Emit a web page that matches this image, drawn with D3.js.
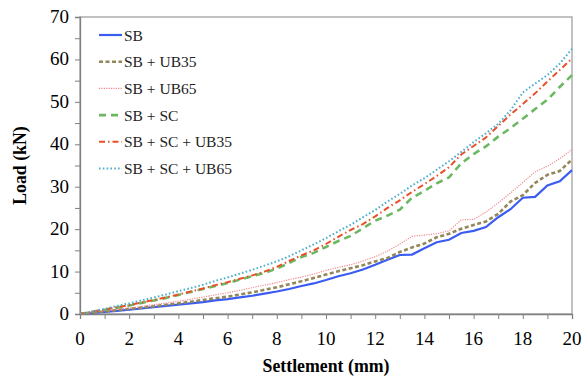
<!DOCTYPE html>
<html>
<head>
<meta charset="utf-8">
<script src="https://cdn.jsdelivr.net/npm/d3@7"></script>
<style>
  body { margin: 0; background: #fff; }
  text { font-family: "Liberation Serif", "Times New Roman", serif; }
</style>
</head>
<body>
<svg id="chart"></svg>
<script>
// settlement steps (mm)
const settlement = d3.range(0, 20.01, 0.5)

// load values (kN)
const sb = [0, 0.25, 0.5, 0.75, 1.0, 1.3, 1.6, 1.9, 2.2, 2.5, 2.8, 3.2, 3.5, 3.9, 4.3, 4.8, 5.3, 5.9, 6.6, 7.2,
  8.0, 8.9, 9.6, 10.5, 11.6, 12.8, 13.9, 14.0, 15.5, 16.9, 17.5, 19.1, 19.6, 20.5, 22.8, 24.7, 27.4, 27.6, 30.3, 31.3, 33.9]
const sbUb35 = [0, 0.3, 0.6, 0.9, 1.2, 1.5, 1.8, 2.2, 2.5, 2.9, 3.3, 3.7, 4.1, 4.6, 5.1, 5.7, 6.3, 7.0, 7.7, 8.5,
  9.3, 10.1, 10.8, 11.5, 12.4, 13.2, 14.6, 15.7, 16.6, 18.1, 18.9, 20.1, 21.0, 21.8, 23.6, 26.5, 28.0, 30.9, 32.8, 33.7, 36.4]
const sbUb65 = [0, 0.35, 0.7, 1.1, 1.4, 1.8, 2.2, 2.6, 3.0, 3.5, 4.0, 4.5, 5.0, 5.6, 6.2, 6.8, 7.4, 8.1, 8.7, 9.4,
  10.3, 11.0, 11.6, 12.5, 13.5, 14.8, 16.5, 18.3, 18.6, 18.9, 19.6, 22.2, 22.3, 24.0, 26.2, 28.5, 31.0, 33.5, 34.8, 36.6, 38.8]
const sbSc = [0, 0.5, 1.0, 1.5, 2.0, 2.6, 3.2, 3.8, 4.5, 5.2, 5.9, 6.6, 7.3, 8.1, 8.9, 9.7, 10.7, 12.0, 13.4, 14.4,
  15.8, 17.2, 18.4, 20.2, 22.0, 23.2, 24.6, 27.4, 29.0, 30.8, 32.2, 35.5, 37.7, 39.5, 41.8, 43.8, 46.0, 48.3, 50.5, 53.5, 56.3]
const sbScUb35 = [0, 0.5, 1.05, 1.6, 2.1, 2.7, 3.3, 3.9, 4.6, 5.3, 6.0, 6.8, 7.5, 8.3, 9.1, 10.0, 11.1, 12.5, 13.8, 15.0,
  16.5, 18.2, 19.8, 21.2, 23.0, 25.0, 26.8, 28.8, 30.6, 32.5, 34.6, 37.6, 39.6, 41.6, 44.3, 47.0, 49.5, 52.0, 54.8, 57.5, 60.2]
const sbScUb65 = [0, 0.6, 1.2, 1.9, 2.5, 3.2, 3.9, 4.6, 5.4, 6.1, 6.9, 7.8, 8.6, 9.5, 10.4, 11.4, 12.4, 13.6, 15.0, 16.4,
  17.9, 19.5, 21.0, 22.8, 24.5, 26.5, 28.3, 30.3, 32.0, 34.0, 36.0, 38.2, 40.5, 42.6, 44.8, 48.0, 52.2, 54.3, 56.3, 59.0, 62.5]

const seriesNames = ["SB", "SB + UB35", "SB + UB65", "SB + SC", "SB + SC + UB35", "SB + SC + UB65"]
const seriesValues = [sb, sbUb35, sbUb65, sbSc, sbScUb35, sbScUb65]

const xTicks = d3.range(0, 21, 1)
const xLabels = d3.range(0, 21, 2)
const yTicks = d3.range(0, 71, 5)
const yLabels = d3.range(0, 71, 10)

// line looks per series
const styles = [
  { color: "#3a5cf2", width: 2.2, dash: null },
  { color: "#94875a", width: 2.6, dash: "4,2.5" },
  { color: "#f08488", width: 1.1, dash: "1.2,1.2" },
  { color: "#6cb862", width: 2.6, dash: "7,5" },
  { color: "#e8502a", width: 2, dash: "6,3,1.5,3" },
  { color: "#4eaecb", width: 2, dash: "1.6,2.2" }
]

const width = 584, height = 383
const margin = ({ top: 17, right: 12, bottom: 69, left: 80 })

const svg = d3.select("#chart").attr("width", width).attr("height", height)

const x = d3.scaleLinear().domain([0, 20]).range([margin.left, width - margin.right])
const y = d3.scaleLinear().domain([0, 70]).range([height - margin.bottom, margin.top])

// frame
svg.append("rect")
  .attr("x", x(0)).attr("y", y(70))
  .attr("width", x(20) - x(0)).attr("height", y(0) - y(70))
  .attr("fill", "none").attr("stroke", "#a0a0a0").attr("stroke-width", 1.3)

// axes
const axisX = svg.append("g")
  .attr("transform", `translate(0 ${y(0)})`)
  .call(d3.axisBottom(x).tickValues(xTicks).tickSize(5).tickFormat(""))
axisX.selectAll("line").attr("stroke", "#808080")
axisX.select(".domain").attr("stroke", "#808080").attr("stroke-width", 1.3)

const axisY = svg.append("g")
  .attr("transform", `translate(${x(0)} 0)`)
  .call(d3.axisLeft(y).tickValues(yTicks).tickSize(5).tickFormat(""))
axisY.selectAll("line").attr("stroke", "#808080")
axisY.select(".domain").attr("stroke", "#808080").attr("stroke-width", 1.3)

// tick labels
svg.append("g").selectAll("text")
  .data(xLabels).join("text")
  .attr("x", d => x(d)).attr("y", y(0) + 31)
  .attr("text-anchor", "middle")
  .style("font-size", "19px")
  .text(d => d)

svg.append("g").selectAll("text")
  .data(yLabels).join("text")
  .attr("x", x(0) - 11).attr("y", d => y(d) + 6)
  .attr("text-anchor", "end")
  .style("font-size", "19px")
  .text(d => d)

// axis titles
svg.append("text")
  .attr("x", (x(0) + x(20)) / 2).attr("y", 372)
  .attr("text-anchor", "middle")
  .style("font-size", "17.8px").style("font-weight", "bold")
  .text("Settlement (mm)")

svg.append("text")
  .attr("transform", `translate(26 ${(y(0) + y(70)) / 2}) rotate(-90)`)
  .attr("text-anchor", "middle")
  .style("font-size", "17.8px").style("font-weight", "bold")
  .text("Load (kN)")

// curves
const line = d3.line()
  .x((d, i) => x(settlement[i]))
  .y(d => y(d))

svg.append("g").selectAll("path")
  .data(seriesValues).join("path")
  .attr("d", d => line(d))
  .attr("fill", "none")
  .attr("stroke", (d, i) => styles[i].color)
  .attr("stroke-width", (d, i) => styles[i].width)
  .attr("stroke-dasharray", (d, i) => styles[i].dash)

// legend
const legend = svg.append("g").selectAll("g")
  .data(seriesNames).join("g")
  .attr("transform", (d, i) => `translate(99 ${35 + i * 26.7})`)

legend.append("line")
  .attr("x1", 0).attr("x2", 23).attr("y1", 0).attr("y2", 0)
  .attr("stroke", (d, i) => styles[i].color)
  .attr("stroke-width", (d, i) => styles[i].width)
  .attr("stroke-dasharray", (d, i) => styles[i].dash)

legend.append("text")
  .attr("x", 25).attr("y", 5.5)
  .style("font-size", "15.5px")
  .attr("fill", "#222")
  .text(d => d)
</script>
</body>
</html>
